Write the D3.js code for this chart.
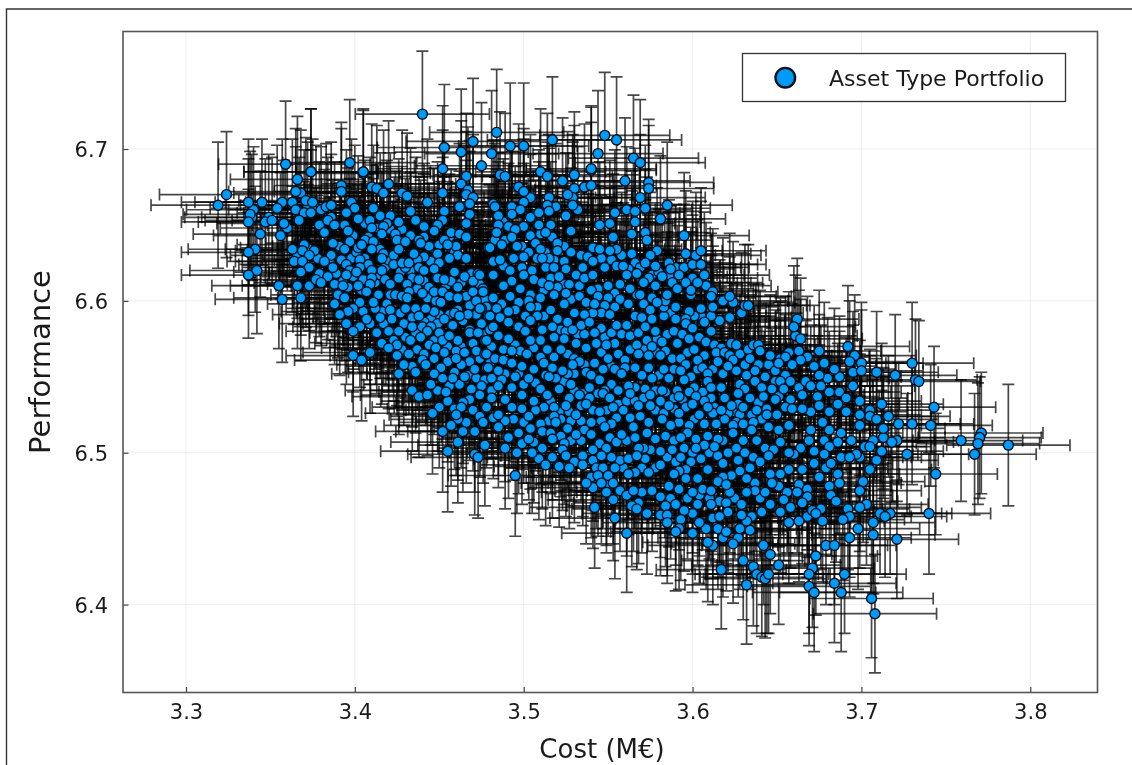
<!DOCTYPE html>
<html>
<head>
<meta charset="utf-8">
<script src="https://cdn.jsdelivr.net/npm/d3@7"></script>
<style>
  html, body { margin: 0; padding: 0; background: #fff; overflow: hidden; }
  svg { display: block; filter: blur(0.45px); font-family: "DejaVu Sans", sans-serif; }
</style>
</head>
<body>
<svg id="chart" width="1132" height="765"></svg>
<script>
// values, [cost, performance]
var leftPoints = [
[3.324,6.670],[3.319,6.663],[3.337,6.665],[3.345,6.665],[3.338,6.657],[3.337,6.652],[3.347,6.652],[3.351,6.653],[3.358,6.651],[3.344,6.644],
[3.356,6.643],[3.341,6.634],[3.337,6.632],[3.342,6.620],[3.337,6.617],[3.355,6.610],[3.357,6.601],[3.366,6.610],[3.373,6.610],[3.368,6.602],
[3.366,6.680],[3.374,6.685],[3.405,6.684],[3.420,6.677],[3.392,6.676],[3.392,6.672],[3.410,6.675],[3.413,6.674],[3.417,6.671],[3.365,6.672],
[3.428,6.671],[3.431,6.669],[3.452,6.671],[3.466,6.682],[3.463,6.677],[3.467,6.673],[3.466,6.670],[3.470,6.668],[3.357,6.665],[3.363,6.665],
[3.371,6.666],[3.375,6.665],[3.354,6.661],[3.365,6.660],[3.370,6.658],[3.374,6.658],[3.383,6.662],[3.386,6.663],[3.398,6.665],[3.400,6.661],
[3.395,6.658],[3.411,6.661],[3.443,6.665],[3.468,6.664],[3.462,6.662],[3.453,6.659],[3.433,6.659],[3.468,6.657],[3.367,6.653],[3.379,6.650],
[3.384,6.653],[3.388,6.650],[3.402,6.654],[3.409,6.653],[3.415,6.656],[3.421,6.656],[3.419,6.651],[3.426,6.652],[3.436,6.653],[3.441,6.649],
[3.452,6.653],[3.466,6.651],[3.449,6.650],[3.447,6.646],[3.410,6.648],[3.417,6.649],[3.396,6.646],[3.382,6.645],[3.457,6.645],[3.462,6.644],
[3.416,6.644],[3.424,6.644],[3.387,6.638],[3.397,6.639],[3.406,6.640],[3.411,6.639],[3.425,6.640],[3.430,6.639],[3.438,6.640],[3.439,6.638],
[3.466,6.642],[3.453,6.640],[3.460,6.636],[3.479,6.635],[3.455,6.637],[3.370,6.637],[3.402,6.635],[3.363,6.634],[3.376,6.633],[3.369,6.633],
[3.373,6.630],[3.394,6.634],[3.386,6.630],[3.415,6.634],[3.417,6.631],[3.423,6.630],[3.426,6.634],[3.435,6.631],[3.449,6.631],[3.410,6.634],
[3.404,6.637],[3.416,6.628],[3.403,6.627],[3.392,6.627],[3.382,6.626],[3.364,6.626],[3.369,6.626],[3.461,6.630],[3.456,6.628],[3.466,6.628],
[3.450,6.625],[3.387,6.622],[3.373,6.622],[3.368,6.619],[3.395,6.624],[3.397,6.620],[3.403,6.622],[3.401,6.619],[3.416,6.620],[3.423,6.624],
[3.430,6.622],[3.428,6.625],[3.432,6.625],[3.438,6.622],[3.447,6.621],[3.459,6.619],[3.473,6.618],[3.441,6.620],[3.410,6.620],[3.379,6.618],
[3.395,6.617],[3.410,6.615],[3.418,6.614],[3.426,6.615],[3.377,6.614],[3.384,6.616],[3.465,6.616],[3.449,6.615],[3.453,6.614],[3.438,6.614],
[3.470,6.613],[3.431,6.611],[3.380,6.612],[3.388,6.611],[3.402,6.610],[3.409,6.611],[3.421,6.611],[3.393,6.610],[3.440,6.605],[3.447,6.606],
[3.452,6.606],[3.461,6.609],[3.475,6.606],[3.432,6.606],[3.390,6.604],[3.414,6.604],[3.421,6.604],[3.424,6.604],[3.428,6.603],[3.456,6.603],
[3.466,6.603],[3.470,6.606],[3.394,6.602],[3.461,6.602],[3.451,6.599],[3.407,6.606],[3.388,6.598],[3.411,6.599],[3.431,6.602],[3.430,6.595],
[3.436,6.595],[3.421,6.594],[3.399,6.595],[3.396,6.593],[3.447,6.593],[3.461,6.594],[3.468,6.597],[3.475,6.595],[3.472,6.600],[3.459,6.592],
[3.442,6.595],[3.479,6.590],[3.391,6.591],[3.407,6.588],[3.415,6.589],[3.422,6.588],[3.438,6.590],[3.453,6.588],[3.467,6.591],[3.462,6.590],
[3.395,6.585],[3.403,6.583],[3.434,6.583],[3.440,6.583],[3.450,6.579],[3.458,6.584],[3.475,6.585],[3.468,6.581],[3.445,6.583],[3.399,6.580],
[3.413,6.579],[3.420,6.580],[3.426,6.580],[3.443,6.580],[3.433,6.574],[3.439,6.576],[3.461,6.574],[3.452,6.574],[3.468,6.579],[3.473,6.579],
[3.477,6.574],[3.456,6.577],[3.416,6.572],[3.425,6.571],[3.420,6.569],[3.444,6.571],[3.448,6.569],[3.472,6.567],[3.477,6.565],[3.409,6.566],
[3.432,6.565],[3.399,6.564],[3.425,6.564],[3.453,6.566],[3.460,6.567],[3.465,6.566],[3.404,6.561],[3.460,6.562],[3.442,6.558],[3.451,6.556],
[3.471,6.555],[3.478,6.556],[3.426,6.552],[3.436,6.553],[3.459,6.553],[3.447,6.552],[3.452,6.549],[3.465,6.550],[3.445,6.545],[3.458,6.549],
[3.475,6.544],[3.474,6.538],[3.434,6.541],[3.438,6.537],[3.443,6.538],[3.454,6.540],[3.464,6.533],[3.463,6.530],[3.450,6.530],[3.446,6.526],
[3.460,6.525]
];

var middlePoints = [
[3.489,6.682],[3.510,6.685],[3.514,6.682],[3.523,6.679],[3.530,6.683],[3.540,6.686],[3.560,6.679],[3.574,6.678],[3.574,6.674],[3.530,6.674],
[3.536,6.675],[3.540,6.676],[3.500,6.672],[3.529,6.668],[3.569,6.668],[3.526,6.670],[3.585,6.663],[3.482,6.664],[3.483,6.662],[3.493,6.662],
[3.500,6.665],[3.515,6.668],[3.514,6.663],[3.529,6.663],[3.498,6.660],[3.561,6.660],[3.554,6.658],[3.566,6.659],[3.572,6.661],[3.493,6.657],
[3.509,6.658],[3.525,6.656],[3.515,6.659],[3.581,6.654],[3.485,6.656],[3.485,6.650],[3.551,6.651],[3.545,6.650],[3.566,6.652],[3.500,6.649],
[3.509,6.650],[3.516,6.650],[3.528,6.646],[3.495,6.647],[3.484,6.645],[3.513,6.645],[3.572,6.645],[3.564,6.644],[3.504,6.643],[3.553,6.642],
[3.595,6.643],[3.493,6.642],[3.573,6.640],[3.480,6.635],[3.487,6.637],[3.496,6.636],[3.507,6.638],[3.520,6.638],[3.510,6.634],[3.520,6.633],
[3.541,6.635],[3.545,6.634],[3.555,6.634],[3.551,6.633],[3.579,6.633],[3.596,6.631],[3.602,6.630],[3.605,6.633],[3.575,6.630],[3.494,6.628],
[3.482,6.626],[3.488,6.623],[3.486,6.627],[3.515,6.628],[3.511,6.628],[3.524,6.626],[3.541,6.626],[3.572,6.625],[3.578,6.623],[3.586,6.625],
[3.555,6.623],[3.559,6.623],[3.535,6.622],[3.492,6.620],[3.499,6.622],[3.505,6.620],[3.513,6.622],[3.518,6.622],[3.525,6.621],[3.587,6.621],
[3.567,6.618],[3.482,6.617],[3.500,6.617],[3.506,6.614],[3.516,6.615],[3.521,6.616],[3.531,6.617],[3.536,6.615],[3.541,6.617],[3.561,6.617],
[3.574,6.615],[3.582,6.616],[3.592,6.617],[3.607,6.617],[3.474,6.617],[3.493,6.613],[3.511,6.612],[3.515,6.610],[3.527,6.611],[3.488,6.610],
[3.588,6.612],[3.578,6.610],[3.603,6.612],[3.557,6.611],[3.544,6.608],[3.540,6.607],[3.550,6.610],[3.571,6.612],[3.498,6.608],[3.476,6.608],
[3.591,6.608],[3.599,6.604],[3.599,6.607],[3.525,6.605],[3.504,6.604],[3.569,6.604],[3.611,6.603],[3.622,6.603],[3.482,6.602],[3.492,6.603],
[3.476,6.606],[3.557,6.601],[3.544,6.603],[3.533,6.603],[3.584,6.600],[3.585,6.604],[3.503,6.600],[3.524,6.598],[3.537,6.599],[3.542,6.598],
[3.562,6.598],[3.579,6.599],[3.554,6.596],[3.590,6.596],[3.605,6.595],[3.612,6.596],[3.631,6.597],[3.633,6.597],[3.474,6.595],[3.495,6.594],
[3.504,6.596],[3.516,6.594],[3.491,6.593],[3.575,6.594],[3.598,6.593],[3.480,6.590],[3.566,6.590],[3.551,6.591],[3.570,6.589],[3.576,6.588],
[3.590,6.588],[3.596,6.588],[3.596,6.585],[3.607,6.586],[3.504,6.587],[3.526,6.586],[3.561,6.584],[3.534,6.584],[3.539,6.586],[3.555,6.584],
[3.572,6.583],[3.546,6.582],[3.482,6.583],[3.517,6.583],[3.578,6.580],[3.600,6.582],[3.611,6.580],[3.501,6.580],[3.529,6.581],[3.518,6.576],
[3.485,6.577],[3.491,6.575],[3.504,6.574],[3.510,6.574],[3.524,6.575],[3.542,6.579],[3.478,6.574],[3.598,6.575],[3.623,6.572],[3.626,6.571],
[3.639,6.571],[3.640,6.567],[3.582,6.573],[3.591,6.572],[3.567,6.571],[3.573,6.574],[3.531,6.572],[3.543,6.572],[3.554,6.572],[3.549,6.571],
[3.537,6.569],[3.514,6.568],[3.522,6.568],[3.493,6.567],[3.601,6.568],[3.576,6.570],[3.646,6.564],[3.478,6.565],[3.502,6.565],[3.550,6.562],
[3.560,6.561],[3.568,6.565],[3.574,6.564],[3.581,6.564],[3.588,6.562],[3.593,6.562],[3.607,6.564],[3.634,6.562],[3.622,6.564],[3.533,6.560],
[3.483,6.562],[3.488,6.561],[3.493,6.559],[3.499,6.557],[3.512,6.559],[3.517,6.556],[3.523,6.554],[3.529,6.558],[3.624,6.561],[3.603,6.561],
[3.615,6.560],[3.639,6.558],[3.621,6.557],[3.596,6.558],[3.606,6.556],[3.583,6.555],[3.589,6.555],[3.593,6.554],[3.479,6.556],[3.485,6.554],
[3.506,6.555],[3.547,6.555],[3.554,6.555],[3.560,6.556],[3.649,6.554],[3.637,6.554],[3.609,6.552],[3.495,6.550],[3.481,6.549],[3.503,6.549],
[3.515,6.550],[3.540,6.551],[3.558,6.552],[3.570,6.551],[3.576,6.549],[3.609,6.547],[3.649,6.547],[3.545,6.548],[3.485,6.544],[3.493,6.543],
[3.510,6.542],[3.521,6.542],[3.528,6.545],[3.539,6.543],[3.556,6.541],[3.563,6.539],[3.582,6.541],[3.591,6.541],[3.598,6.540],[3.611,6.543],
[3.617,6.543],[3.628,6.545],[3.631,6.542],[3.641,6.543],[3.647,6.542],[3.499,6.538],[3.514,6.538],[3.533,6.538],[3.547,6.539],[3.575,6.538],
[3.481,6.536],[3.489,6.535],[3.506,6.534],[3.527,6.536],[3.539,6.536],[3.551,6.536],[3.581,6.534],[3.592,6.537],[3.602,6.537],[3.619,6.536],
[3.627,6.539],[3.642,6.537],[3.649,6.535],[3.493,6.530],[3.499,6.529],[3.518,6.530],[3.525,6.531],[3.537,6.532],[3.553,6.530],[3.568,6.531],
[3.575,6.531],[3.586,6.531],[3.600,6.532],[3.609,6.530],[3.623,6.531],[3.630,6.530],[3.644,6.529],[3.485,6.525],[3.503,6.524],[3.518,6.524],
[3.531,6.525],[3.545,6.527],[3.559,6.528],[3.592,6.526],[3.604,6.525],[3.617,6.528],[3.644,6.525]
];

var rightPoints = [
[3.675,6.567],[3.692,6.570],[3.696,6.564],[3.693,6.560],[3.700,6.559],[3.695,6.553],[3.700,6.554],[3.684,6.555],[3.709,6.553],[3.720,6.551],
[3.730,6.559],[3.732,6.548],[3.734,6.547],[3.661,6.577],[3.664,6.575],[3.664,6.561],[3.659,6.558],[3.651,6.559],[3.655,6.551],[3.675,6.551],
[3.667,6.547],[3.658,6.547],[3.652,6.547],[3.654,6.542],[3.670,6.544],[3.676,6.544],[3.695,6.544],[3.665,6.538],[3.699,6.534],[3.712,6.532],
[3.705,6.528],[3.675,6.531],[3.743,6.530],[3.670,6.527],[3.665,6.529],[3.659,6.529],[3.705,6.524],[3.716,6.524],[3.709,6.522],[3.677,6.520],
[3.699,6.518],[3.713,6.516],[3.722,6.519],[3.730,6.519],[3.741,6.518],[3.657,6.518],[3.681,6.515],[3.670,6.515],[3.688,6.513],[3.694,6.508],
[3.678,6.508],[3.686,6.507],[3.669,6.508],[3.652,6.507],[3.707,6.508],[3.721,6.508],[3.718,6.507],[3.705,6.504],[3.664,6.503],[3.681,6.504],
[3.712,6.501],[3.678,6.499],[3.697,6.499],[3.693,6.497],[3.727,6.499],[3.660,6.499],[3.657,6.500],[3.682,6.493],[3.672,6.493],[3.709,6.495],
[3.705,6.489],[3.665,6.489],[3.657,6.489],[3.686,6.486],[3.652,6.486],[3.646,6.486],[3.744,6.486],[3.687,6.480],[3.701,6.481],[3.663,6.479],
[3.647,6.480],[3.637,6.480],[3.632,6.483],[3.699,6.475],[3.682,6.472],[3.668,6.476],[3.662,6.474],[3.668,6.471],[3.637,6.475],[3.632,6.474],
[3.685,6.468],[3.665,6.467],[3.654,6.469],[3.646,6.466],[3.703,6.466],[3.699,6.464],[3.692,6.463],[3.676,6.463],[3.671,6.462],[3.673,6.460],
[3.711,6.460],[3.717,6.460],[3.740,6.460],[3.714,6.458],[3.693,6.458],[3.689,6.456],[3.663,6.455],[3.657,6.454],[3.677,6.455],[3.707,6.454],
[3.698,6.450],[3.707,6.446],[3.693,6.444],[3.721,6.443],[3.642,6.439],[3.679,6.439],[3.684,6.439],[3.646,6.433],[3.673,6.432],[3.630,6.429],
[3.651,6.426],[3.636,6.425],[3.671,6.424],[3.669,6.420],[3.690,6.420],[3.638,6.420],[3.644,6.420],[3.617,6.423],[3.641,6.418],[3.645,6.517],
[3.651,6.515],[3.635,6.515],[3.638,6.508],[3.643,6.503],[3.648,6.502],[3.645,6.498],[3.630,6.508],[3.630,6.519],[3.635,6.458],[3.632,6.455],
[3.629,6.459],[3.628,6.450],[3.624,6.518],[3.624,6.513],[3.618,6.508],[3.615,6.509],[3.609,6.511],[3.602,6.509],[3.597,6.513],[3.593,6.510],
[3.613,6.504],[3.607,6.505],[3.602,6.503],[3.588,6.502],[3.581,6.501],[3.575,6.502],[3.571,6.503],[3.593,6.497],[3.605,6.496],[3.599,6.494],
[3.618,6.493],[3.627,6.495],[3.581,6.492],[3.572,6.496],[3.596,6.489],[3.609,6.489],[3.592,6.488],[3.589,6.486],[3.574,6.487],[3.596,6.483],
[3.586,6.478],[3.576,6.475],[3.592,6.476],[3.600,6.474],[3.606,6.476],[3.611,6.475],[3.615,6.481],[3.622,6.474],[3.620,6.479],[3.611,6.466],
[3.603,6.466],[3.620,6.467],[3.595,6.462],[3.590,6.466],[3.584,6.465],[3.573,6.460],[3.621,6.461],[3.585,6.459],[3.585,6.454],[3.593,6.456],
[3.604,6.454],[3.612,6.457],[3.616,6.458],[3.592,6.450],[3.590,6.448],[3.615,6.450],[3.620,6.448],[3.624,6.440],[3.612,6.439],[3.609,6.441],
[3.759,6.508],[3.771,6.513],[3.770,6.510],[3.769,6.506],[3.767,6.499],[3.787,6.505],[3.632,6.413],[3.643,6.417],[3.672,6.408],[3.684,6.414],
[3.688,6.408],[3.706,6.404],[3.708,6.394],[3.645,6.420],[3.662,6.588],[3.660,6.583]
];

var topPoints = [
[3.440,6.723],[3.484,6.711],[3.470,6.705],[3.453,6.701],[3.463,6.698],[3.481,6.697],[3.492,6.702],[3.500,6.702],[3.517,6.706],[3.548,6.709],
[3.555,6.706],[3.544,6.697],[3.565,6.694],[3.569,6.691],[3.452,6.687],[3.475,6.689],[3.540,6.687],[3.359,6.690],[3.374,6.685],[3.397,6.691],
[3.405,6.685]
];

var bottomPoints = [
[3.452,6.514],[3.464,6.514],[3.471,6.514],[3.485,6.517],[3.504,6.516],[3.519,6.520],[3.526,6.516],[3.536,6.515],[3.548,6.517],[3.565,6.517],
[3.558,6.512],[3.491,6.510],[3.506,6.507],[3.503,6.509],[3.517,6.509],[3.524,6.506],[3.531,6.512],[3.540,6.512],[3.545,6.506],[3.549,6.503],
[3.568,6.503],[3.455,6.501],[3.471,6.499],[3.473,6.497],[3.489,6.503],[3.496,6.500],[3.511,6.503],[3.523,6.502],[3.525,6.498],[3.541,6.502],
[3.546,6.498],[3.562,6.496],[3.567,6.498],[3.513,6.492],[3.521,6.491],[3.535,6.498],[3.535,6.492],[3.543,6.490],[3.547,6.490],[3.554,6.490],
[3.562,6.486],[3.495,6.485],[3.540,6.484],[3.544,6.485],[3.550,6.485],[3.537,6.480],[3.546,6.480],[3.553,6.480],[3.565,6.475],[3.549,6.474],
[3.553,6.469],[3.568,6.467],[3.542,6.464],[3.564,6.465],[3.567,6.463],[3.554,6.457],[3.561,6.447]
];

// discs that show only as a rim behind a neighbour in the dense clusters
var crowdedPoints = [
[3.339,6.655],[3.340,6.660],[3.349,6.655],[3.360,6.648],[3.372,6.663],[3.377,6.661],[3.368,6.671],[3.380,6.660],[3.386,6.655],[3.394,6.650],
[3.399,6.643],[3.391,6.636],[3.372,6.635],[3.378,6.628],[3.366,6.630],[3.371,6.624],[3.385,6.627],[3.389,6.618],[3.393,6.613],[3.398,6.628],
[3.401,6.632],[3.406,6.628],[3.408,6.624],[3.412,6.617],[3.405,6.614],[3.399,6.616],[3.396,6.609],[3.404,6.607],[3.412,6.612],[3.415,6.617],
[3.418,6.622],[3.420,6.627],[3.413,6.636],[3.408,6.642],[3.413,6.648],[3.406,6.651],[3.421,6.647],[3.428,6.647],[3.433,6.643],[3.441,6.642],
[3.444,6.636],[3.450,6.637],[3.456,6.642],[3.459,6.632],[3.445,6.626],[3.441,6.629],[3.437,6.627],[3.433,6.620],[3.427,6.619],[3.434,6.615],
[3.441,6.613],[3.444,6.609],[3.437,6.608],[3.443,6.602],[3.448,6.600],[3.454,6.610],[3.457,6.613],[3.463,6.612],[3.469,6.618],[3.474,6.611],
[3.477,6.601],[3.478,6.596],[3.472,6.591],[3.464,6.587],[3.456,6.591],[3.450,6.591],[3.445,6.588],[3.449,6.585],[3.441,6.586],[3.434,6.589],
[3.427,6.592],[3.419,6.598],[3.416,6.593],[3.412,6.595],[3.405,6.593],[3.403,6.599],[3.409,6.585],[3.417,6.585],[3.429,6.585],[3.436,6.579],
[3.430,6.576],[3.423,6.574],[3.428,6.568],[3.437,6.568],[3.441,6.565],[3.447,6.574],[3.455,6.570],[3.463,6.570],[3.470,6.572],[3.476,6.578],
[3.480,6.581],[3.481,6.570],[3.474,6.562],[3.468,6.560],[3.463,6.558],[3.455,6.560],[3.447,6.562],[3.440,6.561],[3.434,6.557],[3.429,6.558],
[3.467,6.551],[3.472,6.549],[3.477,6.548],[3.481,6.541],[3.469,6.542],[3.462,6.545],[3.456,6.544],[3.449,6.541],[3.468,6.535],[3.470,6.528],
[3.455,6.534],[3.459,6.529],[3.474,6.524],[3.478,6.530],[3.486,6.683],[3.497,6.675],[3.504,6.668],[3.519,6.662],[3.532,6.660],[3.488,6.652],
[3.491,6.649],[3.504,6.655],[3.510,6.644],[3.517,6.642],[3.489,6.640],[3.483,6.640],[3.499,6.636],[3.503,6.632],[3.500,6.629],[3.508,6.628],
[3.513,6.632],[3.518,6.627],[3.524,6.636],[3.528,6.632],[3.534,6.630],[3.538,6.629],[3.546,6.628],[3.548,6.622],[3.552,6.627],[3.558,6.630],
[3.564,6.631],[3.566,6.625],[3.562,6.621],[3.569,6.622],[3.576,6.617],[3.580,6.619],[3.586,6.617],[3.590,6.622],[3.595,6.622],[3.600,6.624],
[3.605,6.624],[3.600,6.615],[3.596,6.612],[3.608,6.610],[3.612,6.606],[3.618,6.600],[3.624,6.599],[3.629,6.592],[3.622,6.589],[3.616,6.587],
[3.611,6.590],[3.605,6.590],[3.601,6.590],[3.587,6.592],[3.583,6.590],[3.583,6.596],[3.576,6.602],[3.571,6.598],[3.567,6.604],[3.563,6.608],
[3.554,6.605],[3.550,6.602],[3.548,6.597],[3.546,6.592],[3.541,6.592],[3.536,6.591],[3.530,6.592],[3.528,6.601],[3.533,6.610],[3.524,6.611],
[3.520,6.609],[3.518,6.604],[3.512,6.607],[3.510,6.602],[3.508,6.596],[3.512,6.590],[3.508,6.590],[3.501,6.590],[3.497,6.599],[3.487,6.598],
[3.484,6.595],[3.486,6.589],[3.491,6.586],[3.497,6.583],[3.511,6.581],[3.520,6.588],[3.522,6.581],[3.525,6.580],[3.532,6.578],[3.536,6.578],
[3.548,6.576],[3.552,6.579],[3.558,6.578],[3.563,6.577],[3.568,6.579],[3.579,6.575],[3.585,6.578],[3.589,6.580],[3.594,6.578],[3.604,6.576],
[3.608,6.573],[3.613,6.571],[3.617,6.569],[3.614,6.566],[3.619,6.566],[3.628,6.565],[3.633,6.568],[3.636,6.571],[3.631,6.558],[3.626,6.554],
[3.632,6.551],[3.637,6.547],[3.643,6.550],[3.645,6.558],[3.652,6.562],[3.657,6.566],[3.655,6.563],[3.663,6.567],[3.668,6.563],[3.672,6.557],
[3.678,6.559],[3.680,6.549],[3.687,6.550],[3.681,6.540],[3.687,6.540],[3.674,6.537],[3.663,6.543],[3.658,6.535],[3.651,6.537],[3.655,6.530],
[3.650,6.525],[3.639,6.533],[3.634,6.536],[3.627,6.532],[3.624,6.527],[3.613,6.530],[3.611,6.536],[3.606,6.540],[3.601,6.543],[3.594,6.535],
[3.589,6.529],[3.584,6.540],[3.578,6.541],[3.572,6.542],[3.566,6.543],[3.562,6.544],[3.552,6.545],[3.548,6.541],[3.544,6.539],[3.535,6.539],
[3.530,6.541],[3.524,6.547],[3.519,6.549],[3.513,6.551],[3.507,6.546],[3.500,6.545],[3.497,6.552],[3.489,6.552],[3.487,6.548],[3.480,6.559],
[3.488,6.568],[3.495,6.571],[3.498,6.567],[3.506,6.569],[3.510,6.563],[3.518,6.563],[3.526,6.565],[3.530,6.562],[3.536,6.558],[3.542,6.559],
[3.546,6.566],[3.556,6.565],[3.563,6.568],[3.571,6.568],[3.578,6.567],[3.584,6.567],[3.597,6.566],[3.603,6.555],[3.612,6.555],[3.618,6.552],
[3.599,6.550],[3.595,6.548],[3.586,6.549],[3.580,6.551],[3.574,6.556],[3.566,6.556],[3.552,6.557],[3.537,6.553],[3.530,6.552],[3.526,6.552],
[3.516,6.534],[3.512,6.530],[3.507,6.528],[3.521,6.527],[3.527,6.527],[3.534,6.531],[3.541,6.528],[3.549,6.528],[3.556,6.532],[3.561,6.534],
[3.566,6.534],[3.571,6.536],[3.578,6.528],[3.583,6.526],[3.589,6.536],[3.596,6.530],[3.607,6.534],[3.612,6.526],[3.621,6.526],[3.628,6.525],
[3.635,6.525],[3.638,6.528],[3.641,6.522],[3.636,6.520],[3.626,6.520],[3.619,6.522],[3.614,6.519],[3.607,6.519],[3.601,6.522],[3.598,6.518],
[3.592,6.520],[3.587,6.518],[3.582,6.522],[3.574,6.520],[3.569,6.524],[3.563,6.523],[3.555,6.523],[3.552,6.519],[3.546,6.521],[3.540,6.520],
[3.534,6.521],[3.528,6.521],[3.522,6.522],[3.515,6.521],[3.510,6.519],[3.500,6.520],[3.494,6.522],[3.489,6.521],[3.482,6.523],[3.476,6.520],
[3.466,6.520],[3.461,6.522],[3.457,6.518],[3.497,6.513],[3.511,6.514],[3.516,6.513],[3.522,6.511],[3.528,6.508],[3.534,6.508],[3.551,6.510],
[3.555,6.507],[3.561,6.508],[3.566,6.510],[3.573,6.513],[3.578,6.509],[3.584,6.511],[3.589,6.508],[3.595,6.503],[3.600,6.500],[3.610,6.500],
[3.615,6.498],[3.621,6.500],[3.626,6.503],[3.631,6.500],[3.636,6.497],[3.640,6.494],[3.634,6.490],[3.628,6.488],[3.623,6.485],[3.618,6.484],
[3.603,6.483],[3.590,6.494],[3.585,6.497],[3.578,6.490],[3.570,6.490],[3.566,6.487],[3.559,6.490],[3.557,6.495],[3.552,6.497],[3.541,6.495],
[3.530,6.494],[3.527,6.490],[3.517,6.497],[3.509,6.496],[3.505,6.500],[3.499,6.506],[3.477,6.505],[3.461,6.507],[3.541,6.477],[3.549,6.479],
[3.557,6.475],[3.561,6.472],[3.570,6.474],[3.581,6.471],[3.587,6.470],[3.597,6.470],[3.604,6.472],[3.610,6.470],[3.616,6.468],[3.625,6.470],
[3.629,6.466],[3.640,6.470],[3.643,6.474],[3.651,6.478],[3.656,6.474],[3.641,6.461],[3.652,6.461],[3.658,6.464],[3.668,6.458],[3.681,6.478],
[3.675,6.484],[3.679,6.490],[3.672,6.501],[3.688,6.497],[3.699,6.497],[3.702,6.504],[3.713,6.510],[3.699,6.525],[3.691,6.527],[3.681,6.527],
[3.686,6.532],[3.691,6.536],[3.581,6.459],[3.600,6.460],[3.608,6.450],[3.618,6.444],[3.627,6.444],[3.634,6.449],[3.600,6.447],[3.669,6.412]
];

var xTicks = [3.3, 3.4, 3.5, 3.6, 3.7, 3.8];
var yTicks = [6.4, 6.5, 6.6, 6.7];

// whisker half lengths, they get a bit shorter towards the high end
var costErrorEdges = [3.5, 3.62];
var costErrorValues = [0.0397, 0.0385, 0.0365];
var perfErrorEdges = [6.45, 6.6];
var perfErrorValues = [0.039, 0.04, 0.0415];

var legendLabel = 'Asset Type Portfolio';
var xTitle = 'Cost (M€)';
var yTitle = 'Performance';

var margin = { top: 31.5, right: 34.5, bottom: 72.5, left: 123 };
var width = 1132 - margin.left - margin.right;
var height = 765 - margin.top - margin.bottom;

var svg = d3.select('#chart');

// frame left over from the screenshot
svg.append('path')
  .attr('d', 'M6.5,765V9H1132')
  .attr('fill', 'none')
  .attr('stroke', '#333')
  .attr('stroke-width', 1.4);

var plot = svg.append('g')
  .attr('transform', 'translate(' + margin.left + ',' + margin.top + ')');

var x = d3.scaleLinear().domain([3.2627, 3.8398]).range([0, width]);
var y = d3.scaleLinear().domain([6.3421, 6.7774]).range([height, 0]);

var costError = d3.scaleThreshold().domain(costErrorEdges).range(costErrorValues);
var perfError = d3.scaleThreshold().domain(perfErrorEdges).range(perfErrorValues);

var points = crowdedPoints.concat(leftPoints, middlePoints, rightPoints, topPoints, bottomPoints);

// grid
plot.append('g').selectAll('line').data(xTicks).join('line')
  .attr('x1', function (d) { return x(d); })
  .attr('x2', function (d) { return x(d); })
  .attr('y1', 0)
  .attr('y2', height)
  .attr('stroke', '#000')
  .attr('stroke-opacity', 0.07)
  .attr('stroke-width', 1);

plot.append('g').selectAll('line').data(yTicks).join('line')
  .attr('x1', 0)
  .attr('x2', width)
  .attr('y1', function (d) { return y(d); })
  .attr('y2', function (d) { return y(d); })
  .attr('stroke', '#000')
  .attr('stroke-opacity', 0.07)
  .attr('stroke-width', 1);

// axes
var xAxis = plot.append('g')
  .attr('transform', 'translate(0,' + height + ')')
  .call(d3.axisBottom(x).tickValues(xTicks).tickFormat(d3.format('.1f')).tickSize(-5.5).tickSizeOuter(0));

var yAxis = plot.append('g')
  .call(d3.axisLeft(y).tickValues(yTicks).tickFormat(d3.format('.1f')).tickSize(-5.5).tickSizeOuter(0));

[xAxis, yAxis].forEach(function (axis) {
  axis.selectAll('.domain').remove();
  axis.selectAll('line').attr('stroke', '#444').attr('stroke-width', 1.2);
  axis.selectAll('text')
    .attr('font-family', '"DejaVu Sans", sans-serif')
    .attr('font-size', 21)
    .attr('fill', '#1a1a1a');
});
xAxis.selectAll('text').attr('y', 12).attr('dy', '0.71em');
yAxis.selectAll('text').attr('x', -15).attr('dy', '0.36em');

// error bars go under all the markers
function errorPath(d) {
  var path = d3.path();
  var cx = x(d[0]);
  var cy = y(d[1]);
  var left = x(d[0] - costError(d[0]));
  var right = x(d[0] + costError(d[0]));
  var top = y(d[1] + perfError(d[1]));
  var bottom = y(d[1] - perfError(d[1]));
  var cap = 6;
  path.moveTo(left, cy); path.lineTo(right, cy);
  path.moveTo(left, cy - cap); path.lineTo(left, cy + cap);
  path.moveTo(right, cy - cap); path.lineTo(right, cy + cap);
  path.moveTo(cx, top); path.lineTo(cx, bottom);
  path.moveTo(cx - cap, top); path.lineTo(cx + cap, top);
  path.moveTo(cx - cap, bottom); path.lineTo(cx + cap, bottom);
  return path.toString();
}

plot.append('g').selectAll('path').data(points).join('path')
  .attr('d', errorPath)
  .attr('fill', 'none')
  .attr('stroke', '#000')
  .attr('stroke-opacity', 0.72)
  .attr('stroke-width', 1.7);

plot.append('g').selectAll('circle').data(points).join('circle')
  .attr('cx', function (d) { return x(d[0]); })
  .attr('cy', function (d) { return y(d[1]); })
  .attr('r', 5)
  .attr('fill', '#009af9')
  .attr('stroke', '#04101c')
  .attr('stroke-width', 1.4);

// plot box
plot.append('rect')
  .attr('width', width)
  .attr('height', height)
  .attr('fill', 'none')
  .attr('stroke', '#555')
  .attr('stroke-width', 1.6);

// legend
var legend = svg.append('g');
legend.append('rect')
  .attr('x', 742.5)
  .attr('y', 53.5)
  .attr('width', 323)
  .attr('height', 48)
  .attr('fill', '#fff')
  .attr('stroke', '#333')
  .attr('stroke-width', 1.3);
legend.append('circle')
  .attr('cx', 785.3)
  .attr('cy', 77.7)
  .attr('r', 9.8)
  .attr('fill', '#009af9')
  .attr('stroke', '#0a1420')
  .attr('stroke-width', 2.4);
legend.append('text')
  .attr('x', 829)
  .attr('y', 85.5)
  .attr('font-size', 22)
  .attr('fill', '#1a1a1a')
  .text(legendLabel);

// axis titles
svg.append('text')
  .attr('x', 602)
  .attr('y', 758)
  .attr('text-anchor', 'middle')
  .attr('font-size', 26)
  .attr('fill', '#1a1a1a')
  .text(xTitle);

svg.append('text')
  .attr('transform', 'translate(50,362) rotate(-90)')
  .attr('text-anchor', 'middle')
  .attr('font-size', 29)
  .attr('fill', '#1a1a1a')
  .text(yTitle);
</script>
</body>
</html>
